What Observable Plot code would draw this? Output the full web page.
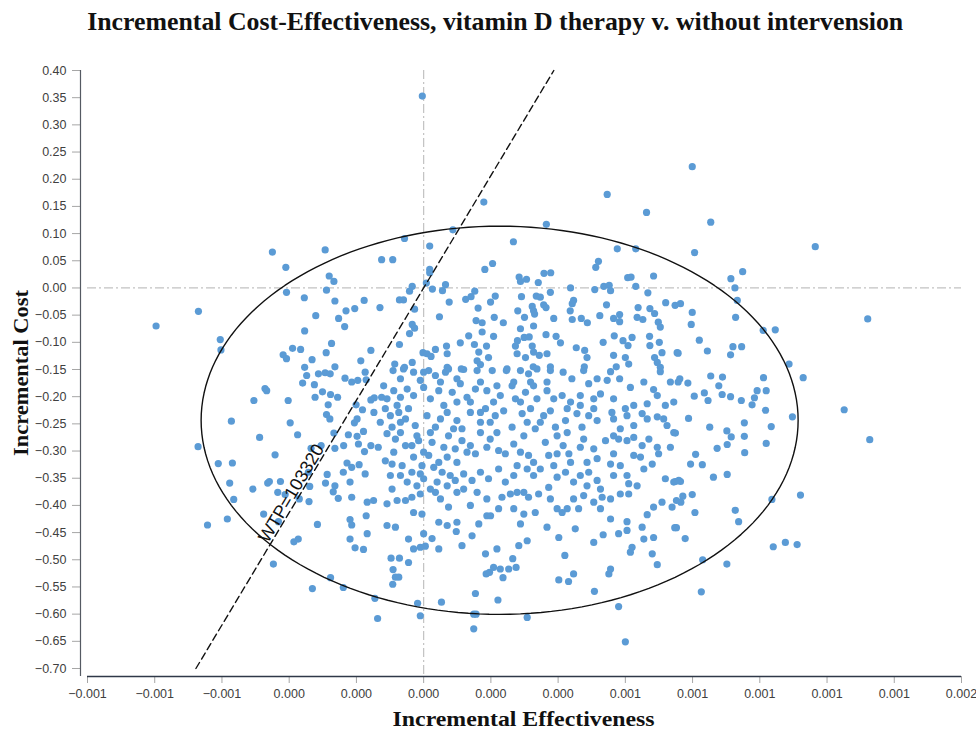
<!DOCTYPE html>
<html>
<head>
<meta charset="utf-8">
<script src="https://cdn.jsdelivr.net/npm/d3@7"></script>
<script src="https://cdn.jsdelivr.net/npm/@observablehq/plot@0.6"></script>
<style>
  html, body { margin: 0; padding: 0; background: #ffffff; }
  #wrap { position: relative; width: 976px; height: 731px; background: #ffffff; overflow: hidden; }
  #title { position: absolute; top: 7px; left: 0; width: 990px; text-align: center; white-space: nowrap;
           font-family: "Liberation Serif", "Times New Roman", serif; font-weight: bold; font-size: 25px; line-height: 30px; color: #111; }
  #title span, #xlabel span { display: inline-block; transform-origin: center center; }
  #chart { position: absolute; top: 48px; left: 0; }
  #xlabel { position: absolute; top: 707px; left: 87px; width: 874px; text-align: center; white-space: nowrap;
            font-family: "Liberation Serif", "Times New Roman", serif; font-weight: bold; font-size: 21px; line-height: 24px; color: #111; }
  #ylabel { position: absolute; left: 21px; top: 373px; white-space: nowrap;
            font-family: "Liberation Serif", "Times New Roman", serif; font-weight: bold; font-size: 21px; line-height: 24px; color: #111; }
  #chart svg [aria-label="x-axis tick"], #chart svg [aria-label="y-axis tick"] { stroke: #a6a6a6; }
</style>
</head>
<body>
<div id="wrap">
  <div id="title"><span id="titleText">Incremental Cost-Effectiveness, vitamin D therapy v. without intervension</span></div>
  <div id="chart"></div>
  <div id="xlabel"><span id="xlabelText">Incremental Effectiveness</span></div>
  <div id="ylabel"><span id="ylabelText">Incremental Cost</span></div>
</div>
<script>
// ---------- axis settings ----------
const xDomain = [-0.001, 0.0016];
const yDomain = [-0.70, 0.40];
const xTicks = [-0.001, -0.0008, -0.0006, -0.0004, -0.0002, 0, 0.0002, 0.0004, 0.0006, 0.0008, 0.001, 0.0012, 0.0014, 0.0016];
const yTicks = [0.40, 0.35, 0.30, 0.25, 0.20, 0.15, 0.10, 0.05, 0.00, -0.05, -0.10, -0.15, -0.20, -0.25, -0.30, -0.35, -0.40, -0.45, -0.50, -0.55, -0.60, -0.65, -0.70];

// ---------- simulation points: incremental effectiveness (in millionths) ----------
const effectMicro = [
-450,-293,-410,-125,-281,-267,-408,-289,-355,-264,-177,-670,-796,-321,-231,-205,-130,-253,-235,-354,-605,-603,-274,-390,-366,-290,-157,-418,-408,-332,-187,-354,-264,
-4,179,546,663,365,87,-57,18,267,576,631,-92,205,182,18,18,520,512,684,358,378,284,306,288,341,607,617,8,-34,65,56,26,-42,152,437,509,536,552,556,631,667,377,335,
-72,-60,76,125,141,213,199,291,347,357,446,442,544,720,748,-27,162,280,323,327,364,436,638,673,47,210,237,300,330,387,442,469,487,524,565,583,583,635,652,687,698,704,
-34,-27,-42,156,174,174,134,208,288,327,364,394,299,314,279,567,620,593,672,701,534,-72,109,151,187,68,273,323,407,454,479,608,673,35,-2,10,22,70,164,159,193,278,303,
327,344,367,486,565,600,687,709,754,-86,-34,-57,70,112,169,248,326,377,478,573,610,695,704,
799,854,806,1165,949,914,926,933,764,799,928,796,1321,1010,1046,820,844,757,920,946,913,1087,
762,786,854,889,878,1011,1129,805,835,846,888,913,945,992,1019,984,977,1017,1251,1097,1327,788,749,851,902,954,1034,915,903,954,1019,873,955,809,794,829,903,862,764,749,
799,771,765,1036,1121,807,927,937,752,778,1040,1076,1111,830,902,826,
-472,-467,-505,-403,-572,-397,-375,-488,-671,-442,-611,-569,-577,-464,-459,-426,-508,-434,-412,-565,-370,-341,-339,-476,-432,-584,-643,-316,-386,-373,-447,-331,-277,-239,-145,-137,
-348,-313,-293,-278,-234,-214,-196,-174,-171,-360,-325,-301,-323,-277,-256,-284,-289,-279,-201,-182,-157,-147,-125,-148,-129,-198,-206,-267,-224,-198,-179,-335,-305,-264,-238,-194,-157,-135,-176,
-343,-287,-228,-214,-192,-239,-174,-219,-292,-264,-269,-254,-214,-168,-149,-171,-219,-214,-168,-219,-204,-179,
-91,-60,-30,0,15,35,65,74,119,159,204,246,288,312,337,377,415,441,476,516,546,556,583,615,655,684,704,734,757,
-119,-89,-69,-49,-30,0,20,45,85,109,129,154,188,208,228,263,273,303,318,337,367,387,412,437,466,491,506,526,565,600,625,665,695,719,744,
-114,-99,-74,-54,-25,10,35,70,99,114,139,169,184,213,238,263,293,308,332,357,377,392,422,456,471,491,516,560,605,650,665,695,714,724,744,
-109,-84,-69,-35,-15,0,15,25,60,74,94,114,139,154,188,198,223,243,268,298,312,362,372,397,415,432,466,486,516,541,565,565,580,605,625,650,670,695,699,734,680,645,
-114,-94,-64,-35,-5,-10,30,55,40,79,94,119,144,169,193,223,243,278,308,327,347,372,397,422,446,466,491,516,556,605,610,635,655,719,744,759,
-94,-109,-79,-54,-35,-10,-30,-5,35,50,74,99,139,188,223,233,258,278,298,312,342,268,298,332,377,397,412,427,446,461,476,506,531,526,556,585,610,665,684,709,739,752,
-109,-84,-45,0,25,45,70,99,97,144,164,199,308,288,367,402,451,506,534,556,580,605,605,655,650,684,747,620,615,680,695,
-30,-10,5,45,114,218,283,184,-45,-97,-72,-91,-84,-74,-92,208,228,265,253,275,186,196,236,420,402,431,446,551,556,508,154,221,53,-18,-10,149,156,308,580,149,600,
-109,-79,-45,-69,-94,-20,-54,-89,-30,20,50,89,60,99,139,169,198,218,169,129,99,70,45,0,-20,-49,-69,-99,20,70,119,159,188,
288,318,347,327,367,268,218,169,99,50,-10,-69,397,427,476,506,288,327,268,387,437,486,526,565,585,625,565,585,625,466,506,427
];

// ---------- simulation points: incremental cost ----------
const cost = [
0.066,0.070,0.038,0.052,0.022,0.012,-0.008,-0.004,-0.018,-0.024,-0.023,-0.043,-0.070,-0.051,-0.042,-0.038,-0.036,-0.056,-0.071,-0.079,-0.095,-0.114,-0.102,-0.111,-0.113,-0.119,-0.115,-0.123,-0.130,-0.132,-0.134,-0.146,-0.145,
0.353,0.158,0.172,0.139,0.117,0.107,0.091,0.077,0.085,0.072,0.072,0.052,0.045,0.034,0.034,0.028,0.049,0.038,0.022,0.027,0.028,0.020,0.016,0.012,0.010,0.019,0.020,0.009,0.003,0.006,-0.005,-0.002,-0.006,-0.006,0.000,-0.003,0.003,0.005,-0.005,0.003,-0.009,-0.008,-0.015,
-0.022,-0.022,-0.026,-0.021,-0.016,-0.015,-0.026,-0.016,-0.017,-0.031,-0.023,-0.029,-0.031,-0.027,-0.032,-0.039,-0.037,-0.042,-0.034,-0.042,-0.036,-0.042,-0.036,-0.038,-0.053,-0.054,-0.064,-0.054,-0.048,-0.056,-0.058,-0.056,-0.064,-0.051,-0.056,-0.049,-0.062,-0.054,-0.058,-0.047,-0.063,-0.072,
-0.067,-0.074,-0.084,-0.060,-0.064,-0.081,-0.088,-0.089,-0.075,-0.070,-0.086,-0.089,-0.091,-0.090,-0.097,-0.088,-0.091,-0.097,-0.089,-0.100,-0.100,-0.104,-0.101,-0.104,-0.107,-0.107,-0.107,-0.107,-0.101,-0.110,-0.115,-0.106,-0.106,-0.113,-0.119,-0.121,-0.126,-0.121,-0.118,-0.134,-0.128,-0.121,-0.128,
-0.118,-0.124,-0.121,-0.128,-0.124,-0.128,-0.128,-0.119,-0.119,-0.140,-0.137,-0.146,-0.146,-0.149,-0.141,-0.149,-0.145,-0.145,-0.145,-0.145,-0.140,-0.137,-0.146,
0.223,0.121,0.065,0.076,0.030,0.017,0.000,-0.023,-0.029,-0.045,-0.054,-0.067,-0.057,-0.078,-0.077,-0.096,-0.116,-0.120,-0.108,-0.108,-0.123,-0.140,
-0.167,-0.175,-0.162,-0.164,-0.180,-0.165,-0.165,-0.199,-0.193,-0.207,-0.196,-0.200,-0.207,-0.189,-0.189,-0.202,-0.215,-0.225,-0.224,-0.237,-0.279,-0.240,-0.267,-0.256,-0.263,-0.248,-0.255,-0.274,-0.288,-0.273,-0.286,-0.295,-0.303,-0.306,-0.324,-0.325,-0.343,-0.348,-0.356,-0.356,
-0.380,-0.383,-0.394,-0.389,-0.381,-0.413,-0.409,-0.430,-0.441,-0.461,-0.476,-0.468,-0.472,-0.500,-0.508,-0.559,
-0.185,-0.189,-0.207,-0.207,-0.245,-0.248,-0.270,-0.275,-0.292,-0.307,-0.323,-0.322,-0.359,-0.359,-0.356,-0.356,-0.370,-0.376,-0.380,-0.389,-0.388,-0.393,-0.365,-0.416,-0.430,-0.425,-0.436,-0.435,-0.467,-0.462,-0.508,-0.553,-0.533,-0.551,-0.571,-0.608,
-0.161,-0.158,-0.156,-0.158,-0.166,-0.173,-0.170,-0.155,-0.169,-0.175,-0.178,-0.191,-0.201,-0.196,-0.201,-0.215,-0.233,-0.241,-0.215,-0.224,-0.206,-0.202,-0.201,-0.229,-0.247,-0.241,-0.248,-0.267,-0.270,-0.273,-0.264,-0.295,-0.290,-0.295,-0.290,-0.287,-0.290,-0.293,-0.301,
-0.339,-0.343,-0.322,-0.330,-0.325,-0.339,-0.342,-0.357,-0.359,-0.364,-0.375,-0.387,-0.385,-0.394,-0.391,-0.419,-0.426,-0.436,-0.452,-0.462,-0.478,-0.481,
-0.152,-0.149,-0.155,-0.155,-0.152,-0.161,-0.155,-0.149,-0.150,-0.152,-0.152,-0.152,-0.152,-0.158,-0.149,-0.152,-0.155,-0.167,-0.152,-0.167,-0.170,-0.154,-0.167,-0.183,-0.173,-0.187,-0.154,-0.173,-0.173,
-0.180,-0.189,-0.201,-0.186,-0.198,-0.183,-0.204,-0.189,-0.192,-0.176,-0.201,-0.186,-0.189,-0.210,-0.198,-0.180,-0.204,-0.192,-0.173,-0.204,-0.189,-0.204,-0.198,-0.210,-0.198,-0.176,-0.204,-0.195,-0.204,-0.222,-0.216,-0.213,-0.198,-0.216,-0.210,
-0.222,-0.235,-0.229,-0.241,-0.253,-0.235,-0.256,-0.229,-0.244,-0.259,-0.229,-0.247,-0.222,-0.235,-0.226,-0.256,-0.231,-0.247,-0.259,-0.235,-0.226,-0.256,-0.244,-0.231,-0.256,-0.235,-0.244,-0.229,-0.235,-0.231,-0.241,-0.237,-0.241,-0.253,-0.266,
-0.268,-0.278,-0.266,-0.290,-0.281,-0.302,-0.308,-0.284,-0.293,-0.272,-0.296,-0.281,-0.290,-0.305,-0.293,-0.278,-0.299,-0.305,-0.287,-0.272,-0.308,-0.284,-0.308,-0.305,-0.290,-0.305,-0.293,-0.321,-0.314,-0.281,-0.272,-0.305,-0.278,-0.281,-0.275,-0.290,-0.278,-0.293,-0.305,-0.293,-0.324,-0.311,
-0.318,-0.324,-0.327,-0.339,-0.327,-0.342,-0.330,-0.339,-0.357,-0.345,-0.354,-0.342,-0.354,-0.339,-0.351,-0.333,-0.357,-0.327,-0.333,-0.345,-0.333,-0.367,-0.348,-0.339,-0.357,-0.345,-0.339,-0.354,-0.324,-0.345,-0.360,-0.364,-0.333,-0.351,-0.357,-0.354,
-0.370,-0.397,-0.391,-0.391,-0.385,-0.379,-0.413,-0.416,-0.376,-0.388,-0.403,-0.376,-0.400,-0.419,-0.406,-0.385,-0.379,-0.376,-0.376,-0.385,-0.379,-0.406,-0.416,-0.413,-0.388,-0.406,-0.413,-0.406,-0.388,-0.406,-0.382,-0.394,-0.385,-0.406,-0.388,-0.379,-0.379,-0.417,-0.403,-0.394,-0.403,-0.391,
-0.437,-0.440,-0.462,-0.452,-0.461,-0.431,-0.437,-0.431,-0.448,-0.456,-0.434,-0.419,-0.465,-0.434,-0.440,-0.459,-0.443,-0.468,-0.454,-0.425,-0.452,-0.446,-0.430,-0.462,-0.440,-0.459,-0.441,-0.477,-0.486,-0.489,-0.509,
-0.480,-0.477,-0.475,-0.480,-0.474,-0.480,-0.474,-0.489,-0.505,-0.497,-0.497,-0.518,-0.532,-0.532,-0.545,-0.514,-0.517,-0.498,-0.517,-0.514,-0.526,-0.523,-0.533,-0.492,-0.537,-0.540,-0.526,-0.526,-0.517,-0.558,-0.562,-0.574,-0.578,-0.580,-0.603,-0.600,-0.600,-0.606,-0.586,-0.627,-0.651,
-0.204,-0.216,-0.222,-0.247,-0.256,-0.272,-0.290,-0.302,-0.311,-0.266,-0.241,-0.259,-0.216,-0.210,-0.210,-0.229,-0.247,-0.266,-0.266,-0.302,-0.321,-0.311,-0.321,-0.351,-0.364,-0.357,-0.345,-0.345,-0.370,-0.364,-0.370,-0.376,-0.388,
-0.210,-0.222,-0.247,-0.180,-0.173,-0.173,-0.180,-0.173,-0.167,-0.173,-0.170,-0.167,-0.272,-0.266,-0.278,-0.296,-0.302,-0.321,-0.345,-0.327,-0.321,-0.364,-0.370,-0.345,-0.327,-0.308,-0.241,-0.259,-0.253,-0.216,-0.222,-0.222
];

// ---------- confidence ellipse & willingness-to-pay line ----------
const ellipseCenter = [0.000226, -0.2434];   // [effect, cost]
const ellipseRadii = [0.000888, 0.357];      // [effect, cost]
const wtpSlope = 1033.2;                      // cost per unit of effect as plotted
const wtpLabel = "WTP=103320";
const wtpLabelCost = -0.385;

// ---------- build tables ----------
const n = Math.min(effectMicro.length, cost.length);
const points = d3.range(n).map(i => ({effect: effectMicro[i] * 1e-6, cost: cost[i]}));
const ellipse = d3.range(0, 361, 2).map(a => {
  const t = a * Math.PI / 180;
  return {effect: ellipseCenter[0] + ellipseRadii[0] * Math.cos(t), cost: ellipseCenter[1] + ellipseRadii[1] * Math.sin(t)};
});
const wtpLine = yDomain.map(c => ({effect: c / wtpSlope, cost: c}));
const wtpText = [{effect: wtpLabelCost / wtpSlope, cost: wtpLabelCost, label: wtpLabel}];

const chart = Plot.plot({
  width: 976,
  height: 683,
  marginTop: 22,
  marginBottom: 55,
  marginLeft: 80,
  marginRight: 15,
  style: {fontFamily: "'Liberation Sans', Arial, sans-serif", fontSize: "12.5px", color: "#404040", background: "#ffffff", overflow: "visible"},
  x: {domain: xDomain, insetLeft: 7, ticks: xTicks, tickFormat: d3.format(".3f"), tickSize: 7, tickPadding: 6, label: null},
  y: {domain: yDomain, insetBottom: 8, ticks: yTicks, tickFormat: d3.format(".2f"), tickSize: 8, tickPadding: 6, label: null},
  marks: [
    Plot.ruleY([0], {x1: xDomain[0], x2: xDomain[1], stroke: "#c2c2c2", strokeWidth: 1.2, strokeDasharray: "9,3,2,3"}),
    Plot.ruleX([0], {stroke: "#c2c2c2", strokeWidth: 1.2, strokeDasharray: "9,3,2,3"}),
    Plot.ruleX([xDomain[0]], {dx: -7, stroke: "#555a63", strokeWidth: 1.2}),
    Plot.ruleY([yDomain[0]], {x1: xDomain[0], x2: xDomain[1], dy: 8, stroke: "#2f3848", strokeWidth: 1.3}),
    Plot.dot(points, {x: "effect", y: "cost", r: 3.6, fill: "#5b9bd5"}),
    Plot.line(ellipse, {x: "effect", y: "cost", stroke: "#111", strokeWidth: 1.4, curve: "linear"}),
    Plot.line(wtpLine, {x: "effect", y: "cost", stroke: "#111", strokeWidth: 1.4, strokeDasharray: "7,4"}),
    Plot.text(wtpText, {x: "effect", y: "cost", text: "label", rotate: -59.2, lineAnchor: "bottom", textAnchor: "middle",
      dx: -2, dy: -1, fontSize: 18, fill: "#111", fontFamily: "'Liberation Sans', Arial, sans-serif"})
  ]
});
document.getElementById("chart").appendChild(chart);

// fit title / axis labels to the widths they occupy in the reference
function fit(id, target) {
  const el = document.getElementById(id);
  const w = el.getBoundingClientRect().width;
  return w > 0 ? target / w : 1;
}
const ts = fit("titleText", 816);
document.getElementById("titleText").style.transform = `scaleX(${ts})`;
const xs = fit("xlabelText", 262);
document.getElementById("xlabelText").style.transform = `scaleX(${xs})`;
const yl = document.getElementById("ylabelText");
const yw = yl.getBoundingClientRect().width;
const ys = yw > 0 ? 166 / yw : 1;
const ylab = document.getElementById("ylabel");
ylab.style.transform = `translate(-50%, -50%) rotate(-90deg) scaleX(${ys})`;
</script>
</body>
</html>
